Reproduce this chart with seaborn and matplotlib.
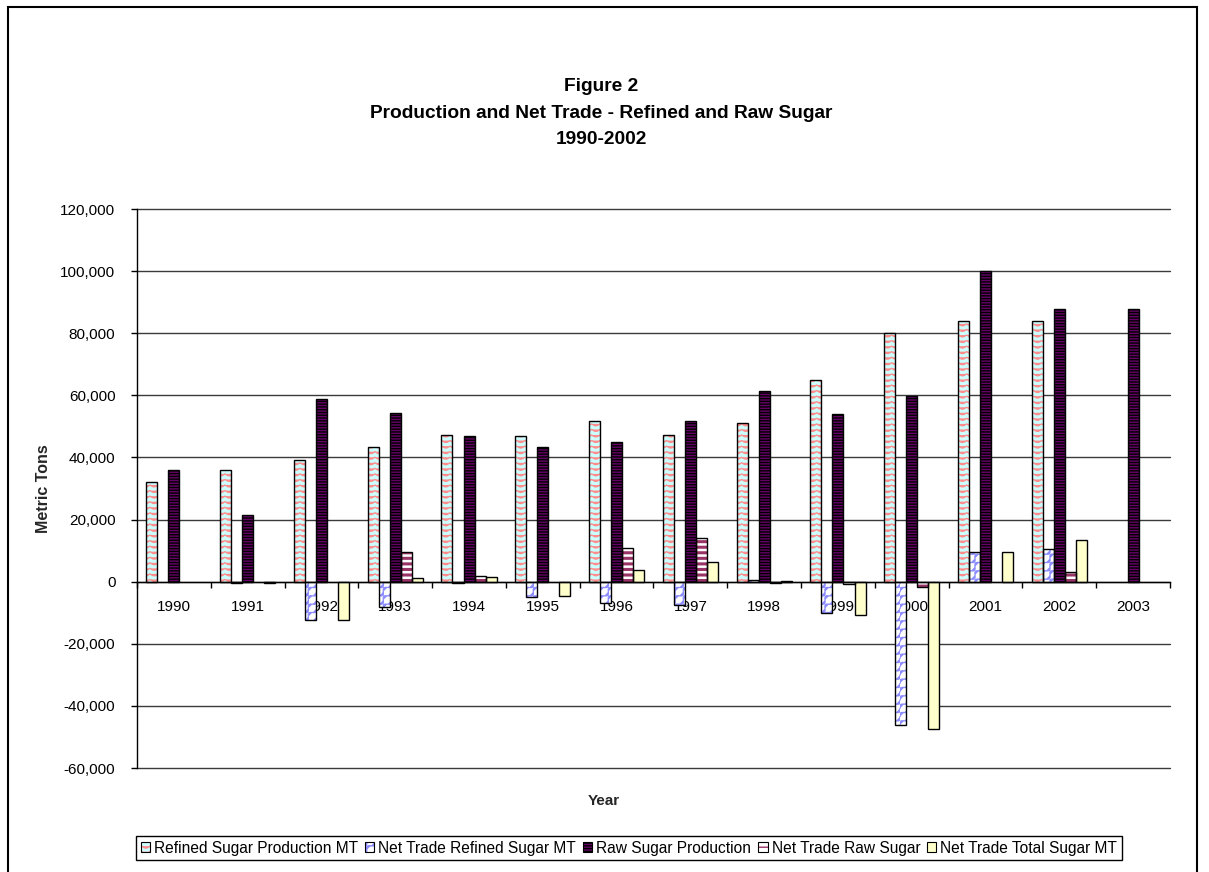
import warnings

import numpy as np
import pandas as pd
import matplotlib
matplotlib.use("Agg")
import matplotlib.pyplot as plt
import matplotlib.hatch as mhatch
from matplotlib.path import Path
from matplotlib.patches import Patch, Rectangle
from matplotlib.ticker import FixedLocator, FuncFormatter
import seaborn as sns

warnings.filterwarnings("ignore", message=".*hatch must consist.*")

# ---------------------------------------------------------------- data (MT)
years = [str(y) for y in range(1990, 2004)]
nan = np.nan
refined_production = [32000, 35800, 39300, 43400, 47300, 46900, 51800,
                      47300, 51000, 64900, 80000, 83800, 83800, nan]
net_trade_refined = [nan, -500, -12500, -8300, -300, -4800, -6800,
                     -7500, 500, -10000, -46100, 9700, 10600, nan]
raw_production = [35900, 21400, 58700, 54300, 47000, 43400, 44900,
                  51800, 61500, 53900, 59700, 100100, 87900, 87900]
net_trade_raw = [nan, nan, nan, 9500, 1900, nan, 10700,
                 14000, -300, -900, -1700, nan, 3000, nan]
net_trade_total = [nan, -500, -12500, 1200, 1600, -4500, 3900,
                   6300, 300, -10700, -47600, 9700, 13300, nan]

series_names = ["Refined Sugar Production MT", "Net Trade Refined Sugar MT",
                "Raw Sugar Production", "Net Trade Raw Sugar",
                "Net Trade Total Sugar MT"]
y_ticks = list(range(-60000, 120001, 20000))

title_lines = ["Figure 2", "Production and Net Trade - Refined and Raw Sugar",
               "1990-2002"]


# ------------------------------------------------------- custom fill patterns
class WaveHatch(mhatch.HatchPatternBase):
    """Rows of small scallops, requested with '~' in a hatch string."""
    periods = 12
    samples = 8

    def __init__(self, hatch, density):
        self.num_rows = int(hatch.count("~") * density)
        n = self.periods * self.samples + 1
        self.num_vertices = self.num_rows * n

    def set_vertices_and_codes(self, vertices, codes):
        n = self.periods * self.samples + 1
        xs = np.linspace(0.0, 1.0, n)
        amp = 0.35 / self.num_rows
        wave = amp * np.abs(np.sin(np.pi * self.periods * xs))
        for i in range(self.num_rows):
            y0 = (i + 0.7) / self.num_rows
            sl = slice(i * n, (i + 1) * n)
            vertices[sl, 0] = xs
            vertices[sl, 1] = y0 - wave
            codes[sl] = Path.LINETO
            codes[i * n] = Path.MOVETO


class DiagonalWaveHatch(mhatch.HatchPatternBase):
    """Wavy lines rising to the right, requested with '^'."""
    periods = 12
    samples = 8

    def __init__(self, hatch, density):
        self.num_lines = int(hatch.count("^") * density)
        n = self.periods * self.samples + 1
        self.num_vertices = (2 * self.num_lines + 1) * n if self.num_lines else 0

    def set_vertices_and_codes(self, vertices, codes):
        n = self.periods * self.samples + 1
        s = np.linspace(0.0, 1.0, n)
        amp = 0.28 / self.num_lines
        wig = amp * np.sin(2 * np.pi * self.periods * s) / np.sqrt(2)
        offsets = np.arange(-self.num_lines, self.num_lines + 1) / self.num_lines
        for i, c in enumerate(offsets):
            sl = slice(i * n, (i + 1) * n)
            vertices[sl, 0] = s - wig
            vertices[sl, 1] = s - c + wig
            codes[sl] = Path.LINETO
            codes[i * n] = Path.MOVETO


mhatch._hatch_types.extend([WaveHatch, DiagonalWaveHatch])

styles = {
    series_names[0]: dict(face="#CCFFFF", hatch="~~~", hcolor="#FF8C8C", hlw=0.9),
    series_names[1]: dict(face="#FFFFFF", hatch="^^", hcolor="#8C8CFF", hlw=0.9),
    series_names[2]: dict(face="#660066", hatch="------", hcolor="#000000", hlw=1.0),
    series_names[3]: dict(face="#FFFFFF", hatch="---", hcolor="#993366", hlw=2.2),
    series_names[4]: dict(face="#FFFFCC", hatch=None, hcolor="#FFFFCC", hlw=1.0),
}

# ------------------------------------------------------------------- styling
sns.set_theme(style="white")
plt.rcParams["font.family"] = ["Liberation Sans", "DejaVu Sans"]
plt.rcParams["hatch.linewidth"] = 1.0
plt.rcParams["text.color"] = "black"

W, H = 1209, 872
fig = plt.figure(figsize=(W / 100, H / 100), dpi=100)
ax = fig.add_axes([137 / W, 1 - 768 / H, (1170 - 137) / W, (768 - 209) / H])

wide = pd.DataFrame({
    series_names[0]: refined_production,
    series_names[1]: net_trade_refined,
    series_names[2]: raw_production,
    series_names[3]: net_trade_raw,
    series_names[4]: net_trade_total,
}, index=pd.Index(years, name="Year"))
long = wide.reset_index().melt(id_vars="Year", var_name="Series", value_name="MT")

sns.barplot(data=long, x="Year", y="MT", hue="Series", order=years,
            hue_order=series_names,
            palette=[styles[s]["face"] for s in series_names],
            saturation=1, width=0.75, errorbar=None, legend=False, ax=ax)


def style_bar(p, st):
    p.set_facecolor(st["face"])
    p.set_edgecolor(st["hcolor"])
    p.set_linewidth(0)
    if st["hatch"]:
        p.set_hatch(st["hatch"])
        if hasattr(p, "set_hatch_linewidth"):
            p.set_hatch_linewidth(st["hlw"])


for name, cont in zip(series_names, ax.containers):
    st = styles[name]
    for p in cont.patches:
        style_bar(p, st)
        ax.add_patch(Rectangle(p.get_xy(), p.get_width(), p.get_height(),
                               fill=False, edgecolor="black", linewidth=1.0,
                               zorder=p.get_zorder() + 0.1))

# axes
ax.set_xlim(-0.5, len(years) - 0.5)
ax.set_ylim(y_ticks[0], y_ticks[-1])
ax.set_yticks(y_ticks)
ax.yaxis.set_major_formatter(FuncFormatter(lambda v, _: f"{v:,.0f}"))
ax.yaxis.grid(True, color="#3a3a3a", linewidth=1.0)
ax.xaxis.grid(False)
ax.set_axisbelow(True)
for gl in ax.get_ygridlines():
    gl.set_clip_on(False)

for side in ("top", "right"):
    ax.spines[side].set_visible(False)
ax.spines["bottom"].set_position(("data", 0))
for side in ("bottom", "left"):
    ax.spines[side].set_color("black")
    ax.spines[side].set_linewidth(1.0)

ax.tick_params(axis="y", which="major", left=True, length=4.5, width=1,
               color="black", direction="out", pad=11, labelsize=11,
               labelcolor="black")
ax.xaxis.set_minor_locator(FixedLocator(np.arange(-0.5, len(years), 1.0)))
ax.tick_params(axis="x", which="major", bottom=True, length=0, pad=13,
               labelsize=11, labelcolor="black")
ax.tick_params(axis="x", which="minor", bottom=True, length=4.5, width=1,
               color="black", direction="out")

ax.set_xlabel("Year", fontsize=11, fontweight="bold")
ax.xaxis.set_label_coords((604 - 137) / 1033, -0.046)
ax.set_ylabel("Metric Tons", fontsize=11.5, fontweight="bold")
ax.yaxis.set_label_coords(-0.083, 0.5)

# title
fig.text(601 / W, 1 - 113 / H, "\n".join(title_lines), ha="center",
         va="center", fontsize=13.8, fontweight="bold", linespacing=1.72)

# legend
handles = []
for name in series_names:
    st = styles[name]
    fill = Patch(facecolor=st["face"], edgecolor=st["hcolor"], linewidth=0,
                 hatch=st["hatch"])
    outline = Patch(fill=False, edgecolor="black", linewidth=0.8)
    handles.append((fill, outline))
leg = fig.legend(handles, series_names, loc="center",
                 bbox_to_anchor=(629 / W, 1 - 848 / H), ncol=5, fontsize=11.2,
                 frameon=True, fancybox=False, edgecolor="black", framealpha=1,
                 handlelength=0.6, handleheight=0.6, handletextpad=0.25,
                 columnspacing=0.45, borderpad=0.3, borderaxespad=0)
leg.get_frame().set_linewidth(1.0)

# chart-area border
fig.add_artist(Rectangle((7.5 / W, -0.1), (1197 - 7.5) / W, 1.1 - 7.5 / H,
                         transform=fig.transFigure, fill=False,
                         edgecolor="black", linewidth=1.5))

fig.savefig("out.png", dpi=100)
